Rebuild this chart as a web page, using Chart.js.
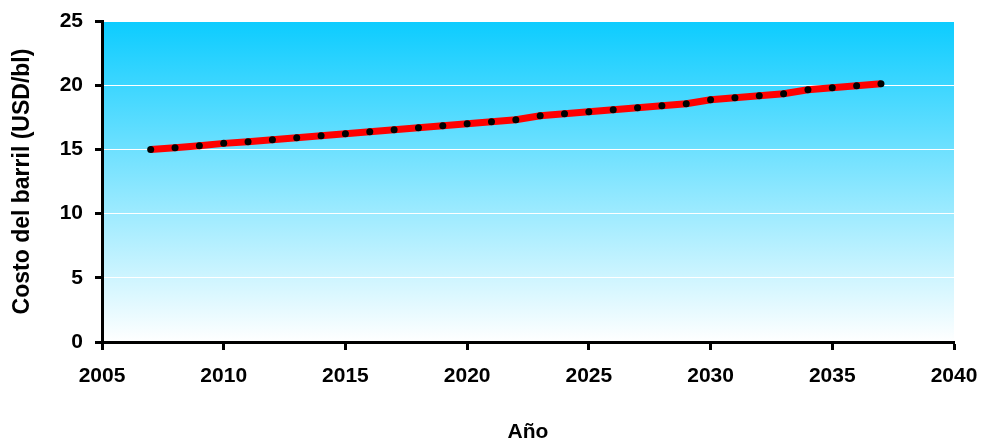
<!DOCTYPE html>
<html>
<head>
<meta charset="utf-8">
<script src="https://cdn.jsdelivr.net/npm/chart.js@4"></script>
<style>
  html, body { margin: 0; padding: 0; background: #fff; }
</style>
</head>
<body>
<canvas id="chart" width="983" height="445"></canvas>
<script>
// data
const years = [2007, 2008, 2009, 2010, 2011, 2012, 2013, 2014, 2015, 2016,
               2017, 2018, 2019, 2020, 2021, 2022, 2023, 2024, 2025, 2026,
               2027, 2028, 2029, 2030, 2031, 2032, 2033, 2034, 2035, 2036, 2037];
const costs = [15.00, 15.13, 15.29, 15.47, 15.60, 15.76, 15.91, 16.07, 16.22, 16.38,
               16.53, 16.69, 16.84, 17.00, 17.16, 17.31, 17.62, 17.78, 17.93, 18.09,
               18.25, 18.40, 18.56, 18.87, 19.03, 19.18, 19.34, 19.65, 19.81, 19.96, 20.12];
const xTicks = [2005, 2010, 2015, 2020, 2025, 2030, 2035, 2040];
const yTicks = [0, 5, 10, 15, 20, 25];

// gradient fill behind the plot area
const plotBackground = {
    id: 'plotBackground',
    beforeDraw(chart) {
        const { ctx, chartArea: a } = chart;
        const g = ctx.createLinearGradient(0, a.top, 0, a.bottom);
        g.addColorStop(0, '#0cccff');
        g.addColorStop(1, '#ffffff');
        ctx.save();
        ctx.fillStyle = g;
        ctx.fillRect(a.left, a.top, a.right - a.left, a.bottom - a.top);
        ctx.restore();
    }
};

const font = 'Arial, "Liberation Sans", sans-serif';

const ctx = document.getElementById('chart').getContext('2d');
const chart = new Chart(ctx, {
    type: 'line',
    data: {
        datasets: [{
            label: 'Costo del barril',
            data: years.map((y, i) => ({ x: y, y: costs[i] })),
            borderColor: '#ff0000',
            borderWidth: 7,
            tension: 0,
            fill: false,
            pointRadius: 3.5,
            pointBackgroundColor: '#000',
            pointBorderColor: '#000',
            pointBorderWidth: 0
        }]
    },
    options: {
        responsive: false,
        animation: false,
        devicePixelRatio: 1,
        layout: { padding: { top: 21, right: 29, bottom: 0, left: 0 } },
        plugins: {
            legend: { display: false },
            tooltip: { enabled: false }
        },
        scales: {
            x: {
                type: 'linear',
                min: xTicks[0],
                max: xTicks[xTicks.length - 1],
                afterBuildTicks: scale => { scale.ticks = xTicks.map(v => ({ value: v })); },
                afterFit: scale => {
                    scale.height = 103;
                    scale.paddingLeft = 0;
                    scale.paddingRight = 0;
                },
                ticks: {
                    color: '#000',
                    font: { family: font, size: 21, weight: 'bold' },
                    padding: 14,
                    maxRotation: 0,
                    callback: v => String(v)
                },
                grid: {
                    drawOnChartArea: false,
                    tickColor: '#000',
                    tickWidth: 3,
                    tickLength: 8
                },
                border: { color: '#000', width: 3 },
                title: {
                    display: true,
                    text: 'Año',
                    color: '#000',
                    font: { family: font, size: 21, weight: 'bold' },
                    padding: 0
                }
            },
            y: {
                min: yTicks[0],
                max: yTicks[yTicks.length - 1],
                afterBuildTicks: scale => { scale.ticks = yTicks.map(v => ({ value: v })); },
                afterFit: scale => {
                    scale.width = 102;
                    scale.paddingTop = 0;
                    scale.paddingBottom = 0;
                },
                ticks: {
                    color: '#000',
                    font: { family: font, size: 21, weight: 'bold' },
                    padding: 12
                },
                grid: {
                    color: '#ffffff',
                    lineWidth: 1,
                    tickColor: '#000',
                    tickWidth: 3,
                    tickLength: 7
                },
                border: { color: '#000', width: 3 },
                title: {
                    display: true,
                    text: 'Costo del barril (USD/bl)',
                    color: '#000',
                    font: { family: font, size: 23, weight: 'bold' },
                    padding: { top: 9, bottom: 0 }
                }
            }
        }
    },
    plugins: [plotBackground]
});
</script>
</body>
</html>
